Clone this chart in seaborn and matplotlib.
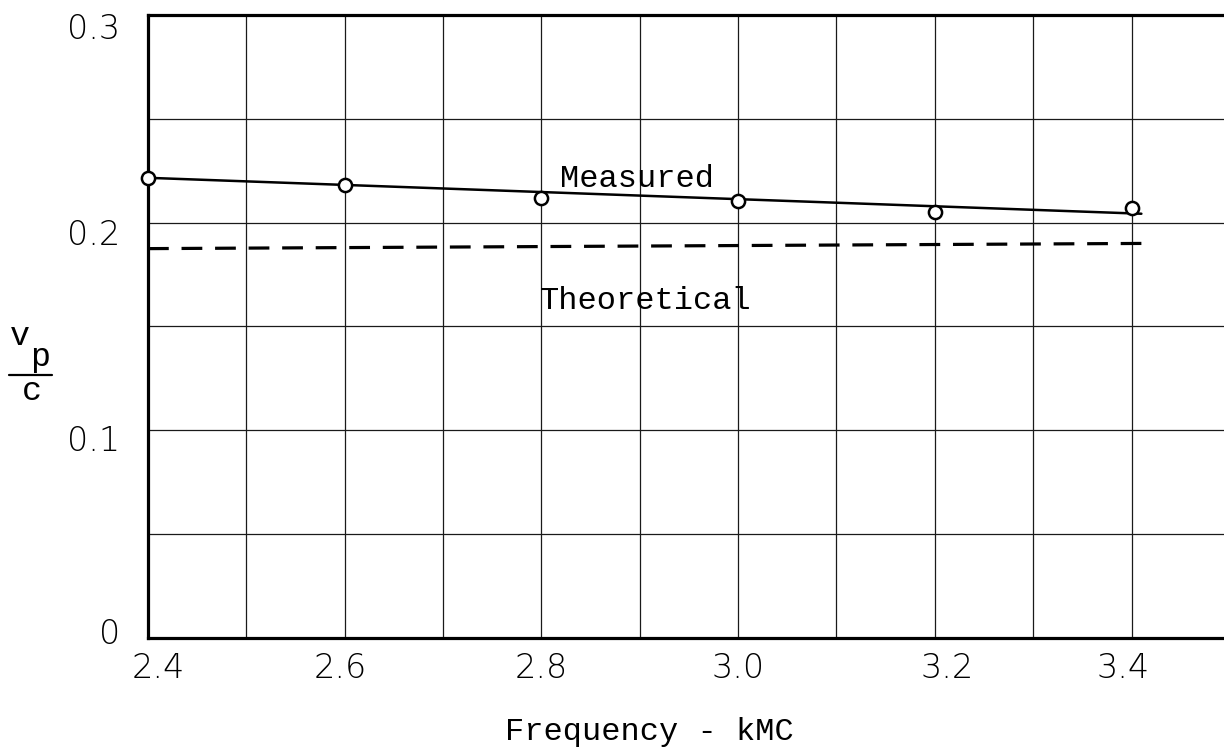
import numpy as np
import pandas as pd
import matplotlib
matplotlib.use("Agg")
import matplotlib.pyplot as plt
from matplotlib.lines import Line2D
from matplotlib.ticker import MultipleLocator
from matplotlib.transforms import ScaledTranslation
import seaborn as sns

# Phase velocity (v_p / c) versus frequency
freq_measured = [2.4, 2.6, 2.8, 3.0, 3.2, 3.4]
vp_measured = [0.2216, 0.2183, 0.2120, 0.2106, 0.2053, 0.2072]

# hand-fitted straight line through the measured points
fit_freq = [2.4, 3.41]
fit_vp = [0.2216, 0.2043]

# theoretical curve
theory_freq = [2.4, 3.41]
theory_vp = [0.1875, 0.1900]

x_ticks = [2.4, 2.6, 2.8, 3.0, 3.2, 3.4]
x_tick_labels = ["2.4", "2.6", "2.8", "3.0", "3.2", "3.4"]
y_ticks = [0.0, 0.1, 0.2, 0.3]
y_tick_labels = ["0", "0.1", "0.2", "0.3"]

sns.set_style("white")
plt.rcParams["font.family"] = ["DejaVu Sans"]
plt.rcParams["text.color"] = "black"

mono = "Liberation Mono"
tick_font = dict(family="DejaVu Sans", size=24, weight="light", color="black")

fig = plt.figure(figsize=(12.24, 7.49), dpi=100)
ax = fig.add_axes([148 / 1224, 111 / 749, 1 - 148 / 1224, 623 / 749])

df_meas = pd.DataFrame({"freq": freq_measured, "vp": vp_measured})
df_fit = pd.DataFrame({"freq": fit_freq, "vp": fit_vp})
df_theory = pd.DataFrame({"freq": theory_freq, "vp": theory_vp})

sns.lineplot(data=df_fit, x="freq", y="vp", ax=ax, color="black", lw=1.8, zorder=3)
sns.lineplot(data=df_theory, x="freq", y="vp", ax=ax, color="black", lw=2.3,
             linestyle=(0, (6.5, 4.0)), zorder=3)
sns.scatterplot(data=df_meas, x="freq", y="vp", ax=ax, s=90, facecolor="white",
                edgecolor="black", linewidth=1.8, zorder=4, clip_on=False)

ax.set_xlim(2.4, 3.494)
ax.set_ylim(0, 0.3)

ax.set_xticks(x_ticks)
ax.set_xticklabels(x_tick_labels, fontdict=tick_font)
ax.set_yticks(y_ticks)
ax.set_yticklabels(y_tick_labels, fontdict=tick_font)
ax.xaxis.set_minor_locator(MultipleLocator(0.1))
ax.yaxis.set_minor_locator(MultipleLocator(0.05))
ax.tick_params(axis="both", which="both", length=0, labelcolor="black")
ax.tick_params(axis="x", pad=10)
ax.tick_params(axis="y", pad=20)
ax.grid(True, which="both", color="#1a1a1a", lw=0.9)
ax.set_axisbelow(True)

# lettered y labels sit a little off their grid lines
y_shift_px = [7, -8, -9, -11]
for lab, dy in zip(ax.get_yticklabels(), y_shift_px):
    lab.set_transform(lab.get_transform() + ScaledTranslation(0, dy / 100, fig.dpi_scale_trans))
x_shift_px = [10, -4, 0, 0, 12, -8]
for lab, dx in zip(ax.get_xticklabels(), x_shift_px):
    lab.set_transform(lab.get_transform() + ScaledTranslation(dx / 100, 0, fig.dpi_scale_trans))

for side in ["left", "bottom", "top"]:
    ax.spines[side].set_visible(True)
    ax.spines[side].set_color("black")
    ax.spines[side].set_linewidth(2.3)
ax.spines["right"].set_visible(False)

ax.set_xlabel("")
ax.set_ylabel("")

# curve labels
ax.text(2.819, 0.2171, "Measured", family=mono, fontsize=23, va="baseline", ha="left",
        color="black")
ax.text(2.7986, 0.1584, "Theoretical", family=mono, fontsize=23, va="baseline", ha="left",
        color="black")

# axis titles
fig.text(649 / 1224, (749 - 740) / 749, "Frequency - kMC", family=mono, fontsize=23,
         ha="center", va="baseline", color="black")
fig.text(20 / 1224, (749 - 345) / 749, "v", family=mono, fontsize=24, ha="center",
         va="baseline", color="black")
fig.text(40 / 1224, (749 - 366) / 749, "p", family=mono, fontsize=24, ha="center",
         va="baseline", color="black")
fig.add_artist(Line2D([9 / 1224, 52 / 1224], [(749 - 375) / 749] * 2,
                      transform=fig.transFigure, color="black", lw=1.6))
fig.text(32 / 1224, (749 - 400) / 749, "c", family=mono, fontsize=24, ha="center",
         va="baseline", color="black")

fig.savefig("out.png", dpi=100, facecolor="white")
